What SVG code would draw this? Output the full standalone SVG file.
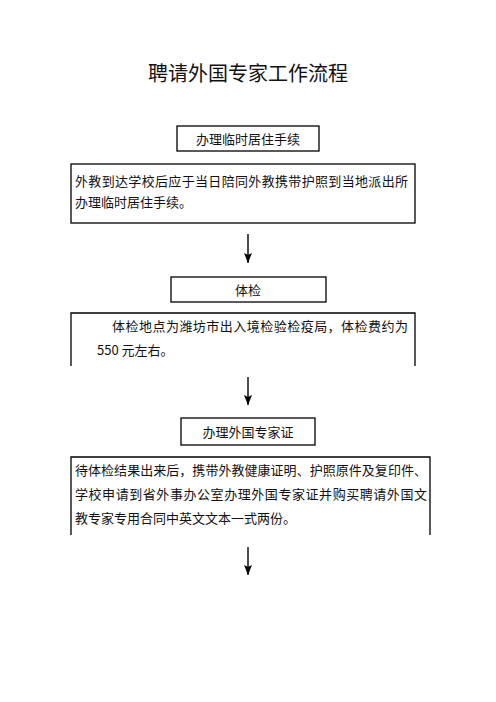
<svg xmlns="http://www.w3.org/2000/svg" width="496" height="702" viewBox="0 0 496 702">
<style>
.t{font-family:"Noto Sans CJK SC","Liberation Serif",sans-serif;fill:#111}
.title{font-size:20px}
.lbl{font-size:13px}
.box{fill:none;stroke:#000;stroke-width:1.3}
.conn{stroke:#000;stroke-width:1.4;fill:none}
</style>
<defs>
<marker id="ah" viewBox="0 0 10 8" refX="10" refY="4" markerWidth="10" markerHeight="8" markerUnits="userSpaceOnUse" orient="auto">
<path d="M0,0 L10,4 L0,8 L2,4 Z" fill="#000"/>
</marker>
</defs>
<rect width="496" height="702" fill="#fff"/>
<text class="t title" x="248" y="81" text-anchor="middle">聘请外国专家工作流程</text>

<g id="node-step1">
<rect class="box" x="177" y="126" width="142" height="25"/>
<text class="t lbl" x="248" y="144" text-anchor="middle">办理临时居住手续</text>
</g>
<g id="node-step1-desc">
<rect class="box" x="71" y="164" width="344" height="59"/>
<text class="t lbl" x="75" y="186" textLength="333" lengthAdjust="spacing">外教到达学校后应于当日陪同外教携带护照到当地派出所</text>
<text class="t lbl" x="75" y="207">办理临时居住手续。</text>
</g>

<g id="node-step2">
<rect class="box" x="171" y="277" width="155" height="25"/>
<text class="t lbl" x="248" y="295" text-anchor="middle">体检</text>
</g>
<g id="node-step2-desc">
<path class="box" d="M71,366 V313 H415 V366"/>
<text class="t lbl" x="112" y="331" textLength="296" lengthAdjust="spacing">体检地点为潍坊市出入境检验检疫局，体检费约为</text>
<text class="t lbl" x="97" y="355">550 元左右。</text>
</g>

<g id="node-step3">
<rect class="box" x="181" y="418" width="134" height="27"/>
<text class="t lbl" x="248" y="437" text-anchor="middle">办理外国专家证</text>
</g>
<g id="node-step3-desc">
<path class="box" d="M71,535 V457 H430 V535"/>
<text class="t lbl" x="75" y="475" textLength="352" lengthAdjust="spacing">待体检结果出来后，携带外教健康证明、护照原件及复印件、</text>
<text class="t lbl" x="75" y="499" textLength="352" lengthAdjust="spacing">学校申请到省外事办公室办理外国专家证并购买聘请外国文</text>
<text class="t lbl" x="75" y="523">教专家专用合同中英文文本一式两份。</text>
</g>

<g id="connectors">
<line class="conn" x1="248" y1="234" x2="248" y2="263" marker-end="url(#ah)"/>
<line class="conn" x1="248" y1="377" x2="248" y2="405" marker-end="url(#ah)"/>
<line class="conn" x1="248" y1="547" x2="248" y2="575" marker-end="url(#ah)"/>
</g>
</svg>
